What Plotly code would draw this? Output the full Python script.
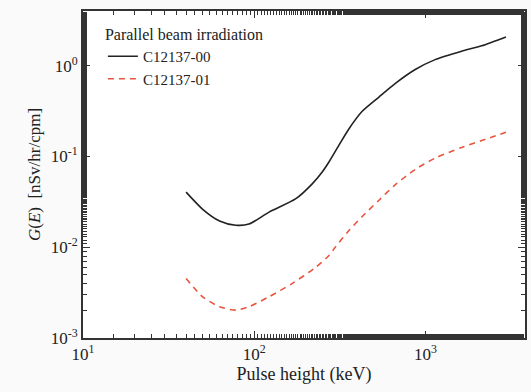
import plotly.graph_objects as go

energy_00 = [40, 50, 62.7, 78, 93, 122, 175, 218, 250, 273, 310, 356, 427, 533, 667, 871, 1138, 1625, 2128, 2950]
g_00 = [0.0405, 0.0262, 0.0195, 0.0175, 0.018, 0.0244, 0.0343, 0.050, 0.068, 0.087, 0.13, 0.20, 0.315, 0.45, 0.64, 0.91, 1.17, 1.45, 1.66, 2.08]

energy_01 = [40, 50, 62.7, 78, 93, 122, 167, 228, 273, 298, 356, 427, 533, 667, 871, 1138, 1625, 2128, 2950]
g_01 = [0.00453, 0.00284, 0.00221, 0.00203, 0.00221, 0.00285, 0.0040, 0.0060, 0.0081, 0.0101, 0.0152, 0.0218, 0.0328, 0.049, 0.072, 0.096, 0.126, 0.15, 0.185]

x_tickvals = [10, 100, 1000]
x_ticktext = ["10<sup>1</sup>", "10<sup>2</sup>", "10<sup>3</sup>"]
y_tickvals = [0.001, 0.01, 0.1, 1]
y_ticktext = ["10<sup>-3</sup>", "10<sup>-2</sup>", "10<sup>-1</sup>", "10<sup>0</sup>"]

font_family = "Liberation Serif, Times New Roman, serif"

fig = go.Figure()
fig.add_trace(go.Scatter(x=energy_00, y=g_00, mode="lines", name="C12137-00",
                         line=dict(color="#222222", width=1.6, shape="spline", smoothing=0.7)))
fig.add_trace(go.Scatter(x=energy_01, y=g_01, mode="lines", name="C12137-01",
                         line=dict(color="#e8553e", width=1.6, dash="6px,5px", shape="spline", smoothing=0.7)))

axis_common = dict(
    type="log", showgrid=False, zeroline=False, showline=True, linecolor="#333333", linewidth=2,
    mirror="ticks", ticks="inside", ticklen=7, tickwidth=1.2, tickcolor="#333333",
    tickfont=dict(family=font_family, size=17, color="#222222"),
    minor=dict(ticks="inside", ticklen=4, tickwidth=1, tickcolor="#333333", showgrid=False),
)

fig.update_xaxes(**axis_common, range=[1, 3.581], tickvals=x_tickvals, ticktext=x_ticktext,
                 title=dict(text="Pulse height (keV)", font=dict(family=font_family, size=18, color="#222222"), standoff=4))
fig.update_yaxes(**axis_common, range=[-3, 0.604], tickvals=y_tickvals, ticktext=y_ticktext,
                 title=dict(text="<i>G</i>(<i>E</i>)  [nSv/hr/cpm]", font=dict(family=font_family, size=17, color="#222222"), standoff=6))

fig.update_layout(
    width=531, height=392,
    margin=dict(l=83, r=4, t=11, b=54),
    paper_bgcolor="#fafafa", plot_bgcolor="#ffffff",
    showlegend=True,
    legend=dict(x=0.045, y=0.975, xanchor="left", yanchor="top", bgcolor="rgba(0,0,0,0)",
                title=dict(text="Parallel beam irradiation", font=dict(family=font_family, size=16, color="#222222")),
                font=dict(family=font_family, size=15, color="#222222"),
                tracegroupgap=0, itemwidth=30),
)

fig.write_html("out.html")
